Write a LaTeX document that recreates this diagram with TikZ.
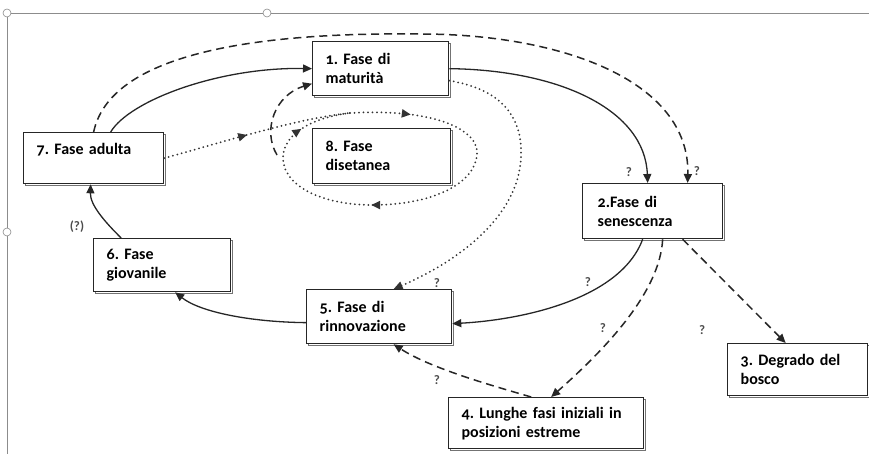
\documentclass[tikz,border=0pt]{standalone}
\usepackage{fontspec}
\setmainfont{Carlito}[Numbers=OldStyle]
\usetikzlibrary{arrows.meta,shadows,decorations.markings}
\frenchspacing

\tikzset{
	phase/.style={draw=black!85, line width=1.3pt, fill=white, anchor=north west,
		align=left, inner xsep=13pt, inner ysep=0pt,
		font=\fontsize{16}{19}\selectfont\bfseries,
		copy shadow={shadow xshift=2pt, shadow yshift=-2pt, draw=black!55, line width=1pt, fill=white}},
	flow/.style={draw=black!85, line width=1.3pt, -{Triangle[length=9pt,width=8pt]}},
	maybe/.style={flow, line width=1.5pt, dash pattern=on 8pt off 5pt},
	weak/.style={draw=black!80, line width=2pt, dash pattern=on 0pt off 4.5pt, line cap=round},
	midtip/.style={postaction={decorate, decoration={markings,
		mark=at position #1 with {\arrow{Triangle[length=9pt,width=8pt]}}}}},
	ask/.style={font=\fontsize{13}{14}\selectfont\bfseries, text=black!70, inner sep=1pt}
}

\begin{document}
\begin{tikzpicture}[x=1pt,y=-1pt]
	\useasboundingbox (0,0) rectangle (869,454);
	% frame of the scan
	\draw[black!45, line width=0.8pt] (7,454) -- (7,13) -- (869,13);
	\foreach \p in {(7,13),(267,13),(7,232)}
		\draw[black!45, line width=0.6pt, fill=white] \p circle (4pt);

	% phases
	\node (mature) at (312, 41)	[phase, text width=110pt, minimum height=54pt]	{1. Fase di\\maturità};
	\node (multi)  at (312,128)	[phase, text width=112pt, minimum height=55pt]	{8. Fase\\disetanea};
	\node (adult)  at ( 23,132)	[phase, text width=114pt, minimum height=51pt]	{7. Fase adulta\\\mbox{}};
	\node (young)  at ( 93,238)	[phase, text width=111pt, minimum height=53pt]	{6. Fase\\giovanile};
	\node (renew)  at (306,289)	[phase, text width=119pt, minimum height=54pt]	{5. Fase di\\rinnovazione};
	\node (senes)  at (582,183)	[phase, text width=110pt, minimum height=55pt, inner xsep=15pt]	{2.Fase di\\senescenza};
	\node (decay)  at (727,343)	[phase, text width=114pt, minimum height=52pt]	{3. Degrado del\\bosco};
	\node (long)   at (448,397)	[phase, text width=169pt, minimum height=51pt]	{4. Lunghe fasi iniziali in\\posizioni estreme};

	% free ends and loop round phase 8
	\coordinate (arcTop)   at (420, 34);
	\coordinate (dashFoot) at (277,155);
	\coordinate (loopA)    at (350,113);
	\coordinate (loopB)    at (477,155);
	\coordinate (loopC)    at (373,205);
	\coordinate (loopD)    at (283,158);

	% solid cycle
	\draw[flow] ([xshift=17pt]adult.north) .. controls (130,100) and (220,67) .. (mature.west);
	\draw[flow] (mature.east) .. controls (560,70) and (645,110) .. ([xshift=-5pt]senes.north);
	\draw[flow] ([xshift=-10pt]senes.south) .. controls (620,300) and (520,320) .. ([yshift=-7pt]renew.east);
	\draw[flow] ([yshift=-6pt]renew.west) .. controls (250,322) and (200,312) .. ([xshift=13pt]young.south);
	\draw[flow] ([xshift=-41pt]young.north) .. controls (105,222) and (90,205) .. ([xshift=-3pt]adult.south);

	% dashed links
	\draw[maybe] (adult.north) .. controls (110,55) and (250,32) .. (arcTop)
		.. controls (560,34) and (690,80) .. ([xshift=35pt]senes.north);
	\draw[maybe] (dashFoot) .. controls (262,130) and (275,95) .. ([yshift=-15pt]mature.west);
	\draw[maybe] ([xshift=10pt]senes.south) .. controls (660,290) and (610,345) .. ([xshift=5pt]long.north);
	\draw[maybe] ([xshift=30pt]senes.south) -- ([xshift=-12pt]decay.north);
	\draw[maybe] ([xshift=-15pt]long.north) .. controls (490,385) and (430,368) .. ([xshift=14.5pt]renew.south);

	% dotted links
	\draw[weak, midtip=0.45] (adult.east) .. controls (230,140) and (300,118) .. (loopA);
	\draw[weak, midtip=0.13, midtip=0.58, midtip=0.89]
		(loopA) .. controls (440,108) and (480,132) .. (loopB)
		.. controls (474,185) and (430,205) .. (loopC)
		.. controls (320,205) and (283,185) .. (loopD)
		.. controls (283,135) and (310,118) .. (loopA);
	\draw[weak, -{Triangle[length=9pt,width=8pt]}] ([yshift=-12pt]mature.east)
		.. controls (505,90) and (522,120) .. (521,155)
		.. controls (520,220) and (450,265) .. ([xshift=14.5pt]renew.north);

	% question marks
	\node (q1) at (629,172) [ask] {?};
	\node (q2) at (697,171) [ask] {?};
	\node (q3) at (588,282) [ask] {?};
	\node (q4) at (603,328) [ask] {?};
	\node (q5) at (702,330) [ask] {?};
	\node (q6) at (437,283) [ask] {?};
	\node (q7) at (437,380) [ask] {?};
	\node (q8) at ( 77,227) [ask] {(?)};
\end{tikzpicture}
\end{document}
